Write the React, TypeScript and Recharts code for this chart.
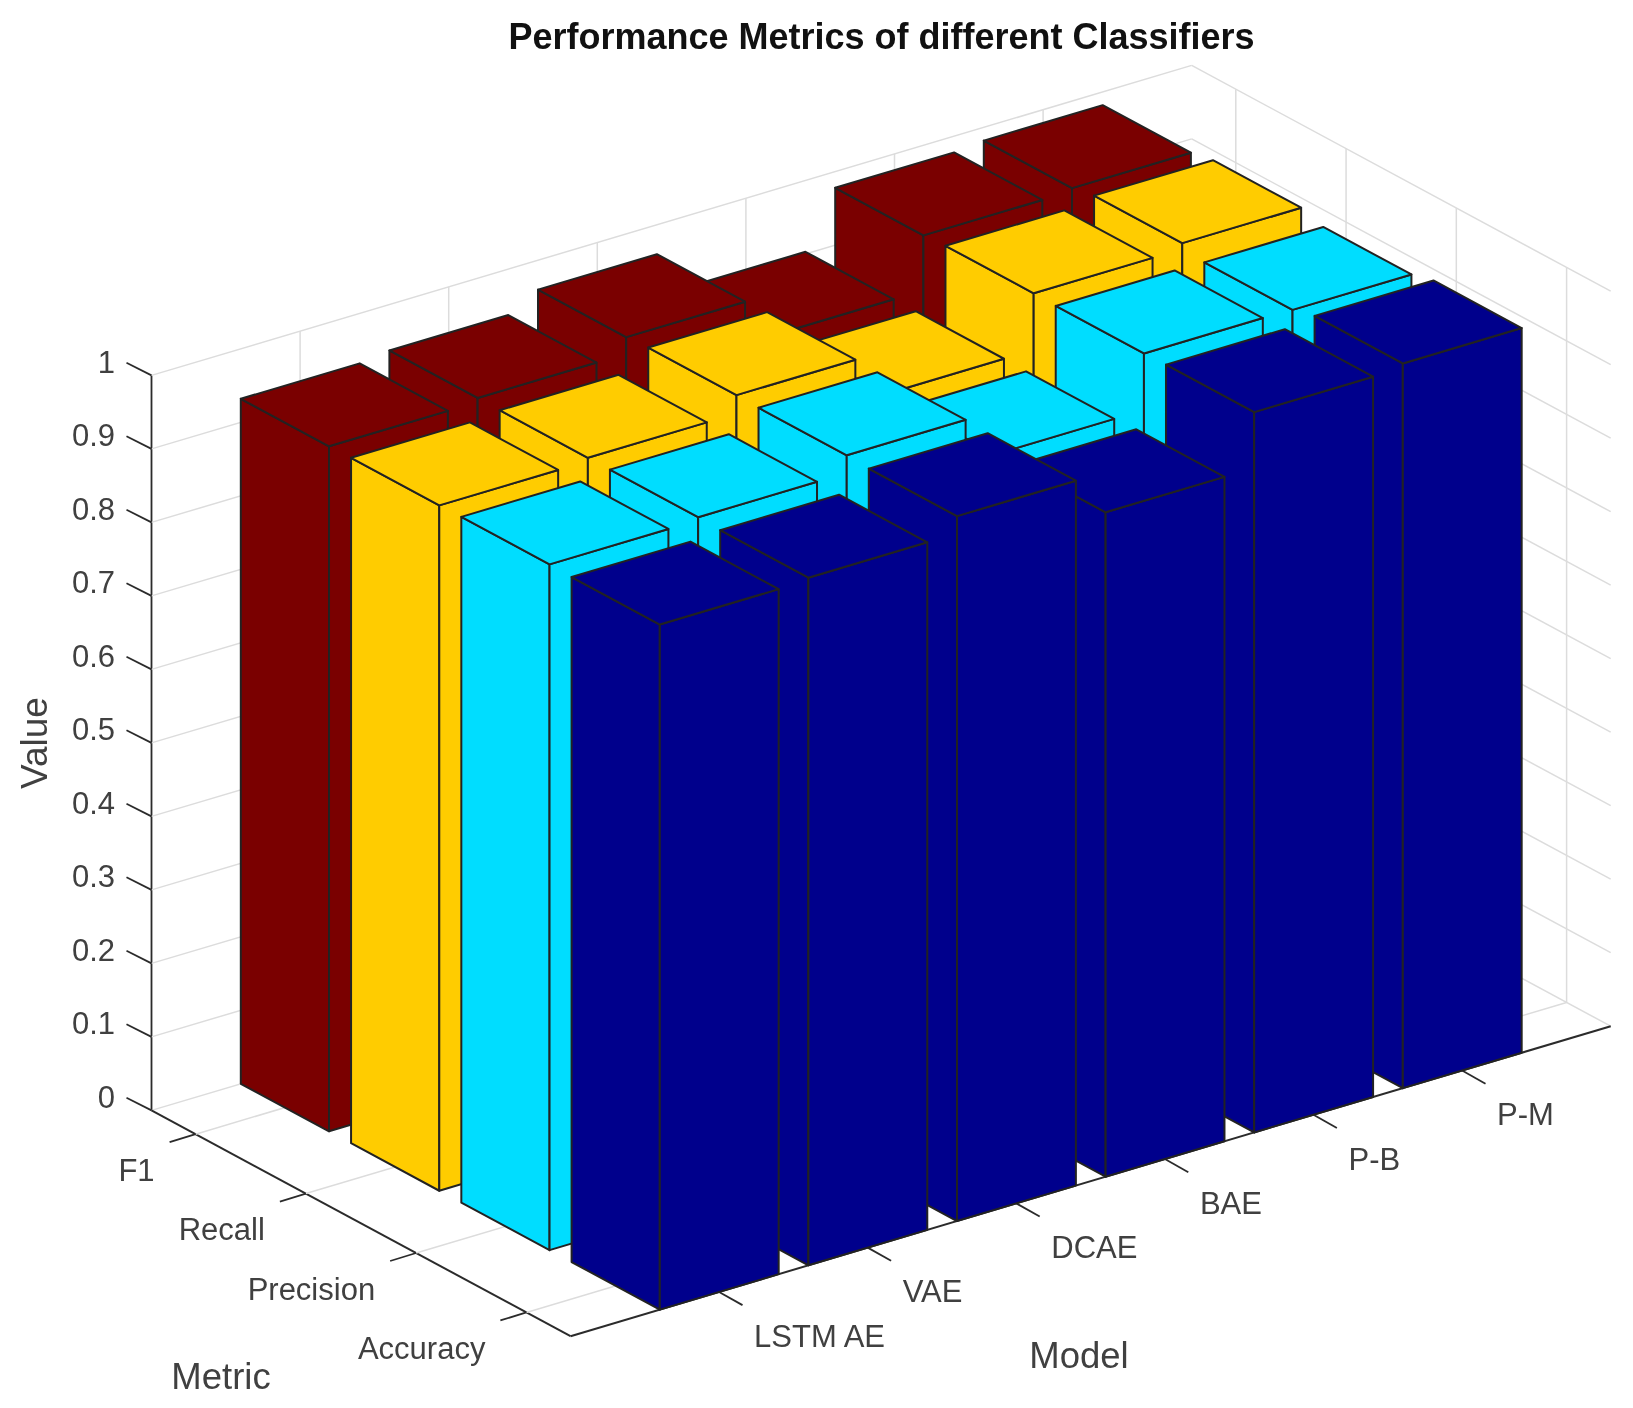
import { ComposedChart, Bar, XAxis, YAxis } from 'recharts';

const models = ['LSTM AE', 'VAE', 'DCAE', 'BAE', 'P-B', 'P-M'];
const metrics = ['F1', 'Recall', 'Precision', 'Accuracy'];
const f1 = [0.932, 0.9375, 0.96, 0.903, 0.978, 0.982];
const recall = [0.9325, 0.937, 0.962, 0.903, 0.98, 0.988];
const precision = [0.933, 0.937, 0.961, 0.902, 0.979, 0.978];
const accuracy = [0.932, 0.9355, 0.959, 0.904, 0.98, 0.986];
const valueTicks = [0, 0.1, 0.2, 0.3, 0.4, 0.5, 0.6, 0.7, 0.8, 0.9, 1];
const metricTicks = [0.4, 1.4, 2.4, 3.4];

// drawn back to front, so P-M comes first and the x axis is reversed
const table = models
    .map((model, i) => ({
        model,
        F1: f1[i],
        Recall: recall[i],
        Precision: precision[i],
        Accuracy: accuracy[i],
    }))
    .reverse();

const COLORS = {
    F1: '#7a0000',
    Recall: '#ffcc00',
    Precision: '#00ddff',
    Accuracy: '#00008c',
};

const WIDTH = 1633;
const HEIGHT = 1408;
const LEFT = 151.5;
const TOP = 375.4;
const FLOOR = 1110.4;
const PLOT_W = 1040.2; // 7 model units along the back wall
const RISE = 310; // how far the model direction climbs over PLOT_W
const DEPTH_X = 419; // metric direction over its whole range
const DEPTH_Y = 225.8;
const METRIC_RANGE = 3.8;
const MODEL_STEP = PLOT_W / 7;
const BAR_W = MODEL_STEP * 0.8;

const GRID = '#dcdcdc';
const AXIS = '#2b2b2b';
const TEXT = '#404040';
const FONT = '"Liberation Sans", Arial, sans-serif';
const TICK_FONT = 31;

const rise = (x: number) => ((x - LEFT) / PLOT_W) * RISE;

const ValueTick = ({ y, payload }: any) => {
    const x2 = LEFT + PLOT_W;
    const y2 = y - RISE;
    return (
        <g>
            <line x1={LEFT} y1={y} x2={x2} y2={y2} stroke={GRID} strokeWidth={1.5} />
            <line x1={x2} y1={y2} x2={x2 + DEPTH_X} y2={y2 + DEPTH_Y} stroke={GRID} strokeWidth={1.5} />
            <line x1={LEFT} y1={y} x2={LEFT - 25} y2={y - 12.6} stroke={AXIS} strokeWidth={1.8} />
            <text x={115} y={y - 13.5} dy="0.35em" textAnchor="end" fontSize={TICK_FONT} fontFamily={FONT} fill={TEXT}>
                {payload.value}
            </text>
            {payload.value === 0 && (
                <g>
                    <line x1={LEFT} y1={y} x2={LEFT + DEPTH_X} y2={y + DEPTH_Y} stroke={AXIS} strokeWidth={2} />
                    <line
                        x1={LEFT + DEPTH_X}
                        y1={y + DEPTH_Y}
                        x2={x2 + DEPTH_X}
                        y2={y2 + DEPTH_Y}
                        stroke={AXIS}
                        strokeWidth={2}
                    />
                </g>
            )}
        </g>
    );
};

const ModelTick = ({ x, payload }: any) => {
    const y = FLOOR - rise(x);
    const fx = x + DEPTH_X;
    const fy = y + DEPTH_Y;
    return (
        <g>
            <line x1={x} y1={y} x2={x} y2={y - (FLOOR - TOP)} stroke={GRID} strokeWidth={1.5} />
            <line x1={x} y1={y} x2={fx} y2={fy} stroke={GRID} strokeWidth={1.5} />
            <line x1={fx} y1={fy} x2={fx + 23.4} y2={fy + 13.2} stroke={AXIS} strokeWidth={1.8} />
            <text x={fx + 35} y={fy + 44} dy="0.35em" fontSize={TICK_FONT} fontFamily={FONT} fill={TEXT}>
                {payload.value}
            </text>
        </g>
    );
};

// the metric axis is a second y axis, its scale only gives the share of the floor depth
const MetricTick = ({ y, payload }: any) => {
    const t = (FLOOR - y) / (FLOOR - TOP);
    const fx = LEFT + t * DEPTH_X;
    const fy = FLOOR + t * DEPTH_Y;
    const bx = fx + PLOT_W;
    const by = fy - RISE;
    const name = metrics[Math.round(payload.value - 0.4)];
    return (
        <g>
            <line x1={fx} y1={fy} x2={bx} y2={by} stroke={GRID} strokeWidth={1.5} />
            <line x1={bx} y1={by} x2={bx} y2={by - (FLOOR - TOP)} stroke={GRID} strokeWidth={1.5} />
            <line x1={fx} y1={fy} x2={fx - 26} y2={fy + 8} stroke={AXIS} strokeWidth={1.8} />
            <text x={fx - 41} y={fy + 36} dy="0.35em" textAnchor="end" fontSize={TICK_FONT} fontFamily={FONT} fill={TEXT}>
                {name}
            </text>
        </g>
    );
};

// bar3 style block, the bar's own scaled x and height are sheared onto the floor
const Block = ({ x, y, width, height, row, fill }: any) => {
    const depth = metricTicks[row] / METRIC_RANGE;
    const cx = x + width / 2 + depth * DEPTH_X;
    const cy = y + height - rise(x + width / 2) + depth * DEPTH_Y;
    const mx = MODEL_STEP * 0.4;
    const my = (RISE / 7) * 0.4;
    const rx = (DEPTH_X / METRIC_RANGE) * 0.4;
    const ry = (DEPTH_Y / METRIC_RANGE) * 0.4;
    const pts = (list: number[][], up: number[]) =>
        list.map((p, i) => `${cx + p[0]},${cy + p[1] - up[i] * height}`).join(' ');
    const L = [-rx - mx, -ry + my];
    const F = [rx - mx, ry + my];
    const R = [rx + mx, ry - my];
    const B = [-rx + mx, -ry - my];
    const common = { fill, stroke: '#222', strokeWidth: 2, strokeLinejoin: 'round' as const };
    return (
        <g>
            <polygon points={pts([L, F, F, L], [0, 0, 1, 1])} {...common} />
            <polygon points={pts([F, R, R, F], [0, 0, 1, 1])} {...common} />
            <polygon points={pts([L, F, R, B], [1, 1, 1, 1])} {...common} />
        </g>
    );
};

const rows = ['F1', 'Recall', 'Precision', 'Accuracy'] as const;

const layer = { position: 'absolute', left: 0, top: 0 } as const;

const App = () => (
    <div style={{ ...layer, width: WIDTH, height: HEIGHT, background: '#fff', filter: 'blur(0.6px)' }}>
        {/* walls, floor, ticks and labels sit in their own chart under the bars */}
        <div style={layer}>
            <ComposedChart
                width={WIDTH}
                height={HEIGHT}
                data={table}
                margin={{ top: TOP, bottom: HEIGHT - FLOOR - 1, left: 0, right: WIDTH - LEFT - PLOT_W - 1 }}
            >
                <XAxis
                    dataKey="model"
                    reversed
                    height={1}
                    interval={0}
                    padding={{ left: MODEL_STEP / 2, right: MODEL_STEP / 2 }}
                    axisLine={false}
                    tickLine={false}
                    tickSize={0}
                    tick={<ModelTick />}
                />
                <YAxis
                    width={LEFT}
                    domain={[0, 1]}
                    ticks={valueTicks}
                    interval={0}
                    axisLine={{ stroke: AXIS, strokeWidth: 1.8 }}
                    tickLine={false}
                    tickSize={0}
                    tick={<ValueTick />}
                />
                <YAxis
                    yAxisId="metric"
                    orientation="right"
                    width={1}
                    domain={[0, METRIC_RANGE]}
                    ticks={metricTicks}
                    interval={0}
                    axisLine={false}
                    tickLine={false}
                    tickSize={0}
                    tick={<MetricTick />}
                />
                {/* empty series, the axes only scale once an item uses them */}
                <Bar dataKey="F1" isAnimationActive={false} shape={() => <g />} />
                <Bar dataKey="F1" yAxisId="metric" isAnimationActive={false} shape={() => <g />} />
                <text x={881.5} y={36} dy="0.35em" textAnchor="middle" fontSize={36} fontWeight="bold" fontFamily={FONT} fill="#111">
                    Performance Metrics of different Classifiers
                </text>
                <text
                    x={34}
                    y={743}
                    dy="0.35em"
                    textAnchor="middle"
                    fontSize={37}
                    fontFamily={FONT}
                    fill={TEXT}
                    transform="rotate(-90 34 743)"
                >
                    Value
                </text>
                <text x={1079} y={1355} dy="0.35em" textAnchor="middle" fontSize={36.5} fontFamily={FONT} fill={TEXT}>
                    Model
                </text>
                <text x={221} y={1376.6} dy="0.35em" textAnchor="middle" fontSize={36.5} fontFamily={FONT} fill={TEXT}>
                    Metric
                </text>
            </ComposedChart>
        </div>
        <div style={layer}>
            <ComposedChart
                width={WIDTH}
                height={HEIGHT}
                data={table}
                barSize={BAR_W}
                barGap={-BAR_W}
                margin={{ top: TOP, bottom: HEIGHT - FLOOR, left: LEFT, right: WIDTH - LEFT - PLOT_W }}
            >
                <XAxis
                    dataKey="model"
                    reversed
                    hide
                    padding={{ left: MODEL_STEP / 2, right: MODEL_STEP / 2 }}
                />
                <YAxis hide domain={[0, 1]} />
                {rows.map((key, row) => (
                    <Bar
                        key={key}
                        dataKey={key}
                        fill={COLORS[key]}
                        isAnimationActive={false}
                        shape={(p: any) => <Block {...p} row={row} fill={COLORS[key]} />}
                    />
                ))}
            </ComposedChart>
        </div>
    </div>
);

export default App;
